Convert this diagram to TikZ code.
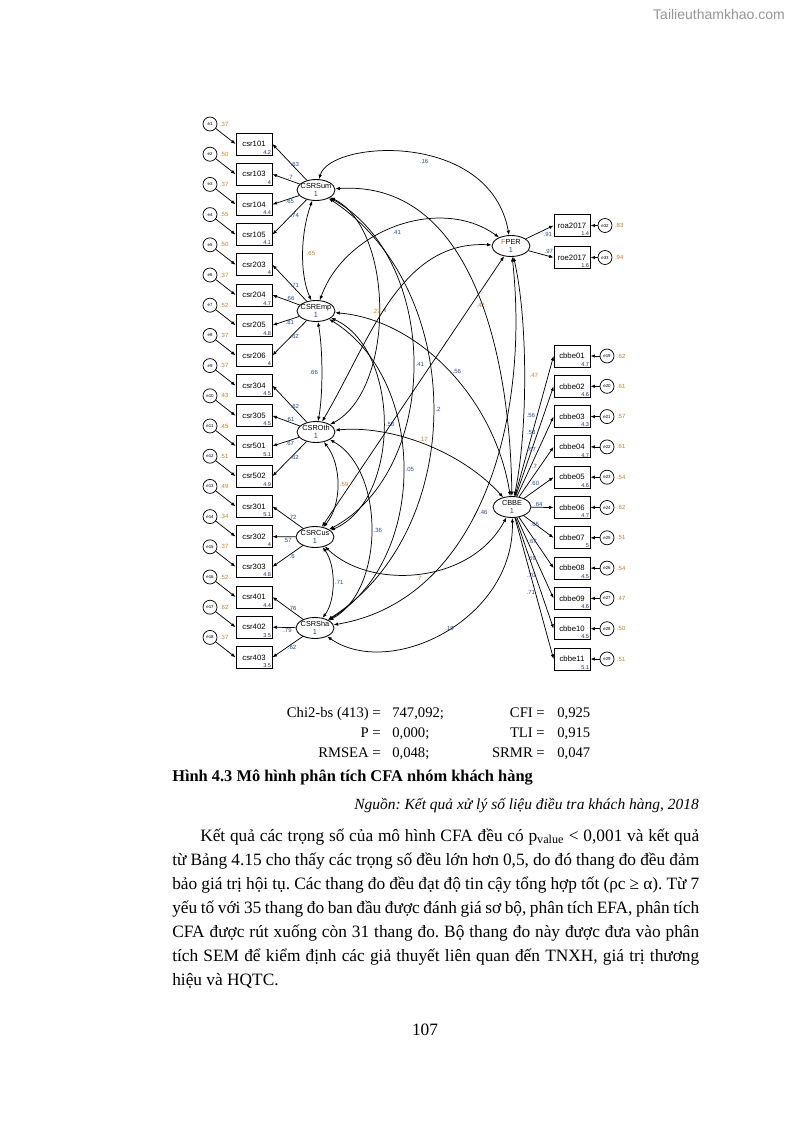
\documentclass[tikz,border=0pt]{standalone}
\usepackage{fontspec}
\setmainfont{Liberation Serif}
\setsansfont{Liberation Sans}
\usetikzlibrary{shapes.geometric,arrows.meta}
\definecolor{lblblue}{RGB}{35,75,160}
\definecolor{lblor}{RGB}{205,125,30}
\definecolor{meanc}{RGB}{40,40,90}
\definecolor{wm}{RGB}{150,150,150}
\frenchspacing
\begin{document}
\begin{tikzpicture}[x=0.75pt,y=-0.75pt,
  every node/.style={inner sep=0pt},
  ind/.style={draw,line width=0.65pt,minimum width=27pt,minimum height=16.5pt,font=\sffamily\fontsize{5.8}{6}\selectfont},
  lat/.style={draw,ellipse,line width=0.65pt,minimum width=28.5pt,minimum height=15.75pt},
  latname/.style={font=\sffamily\fontsize{5.5}{6.2}\selectfont,align=center},
  err/.style={draw,circle,line width=0.55pt,minimum size=10.5pt,font=\sffamily\fontsize{3.3}{3.3}\selectfont},
  mean/.style={font=\sffamily\fontsize{4.2}{4.2}\selectfont,text=meanc,inner sep=0.8pt},
  arr/.style={-{Latex[length=3.4pt,width=2.6pt]},line width=0.55pt},
  cov/.style={{Latex[length=3.4pt,width=2.6pt]}-{Latex[length=3.4pt,width=2.6pt]},line width=0.55pt},
  lbl/.style={font=\sffamily\fontsize{4.5}{4.5}\selectfont,text=lblblue,inner sep=0.6pt},
  lblo/.style={lbl,text=lblor},
  stat/.style={font=\fontsize{11}{13}\selectfont},
  body/.style={font=\fontsize{13}{15}\selectfont,anchor=base west},
]
\useasboundingbox[fill=white] (0,0) rectangle (794,1123);

% watermark
\node[anchor=base east,font=\sffamily\fontsize{10.5}{12}\selectfont,text=wm] (wmk) at (785,20) {Tailieuthamkhao.com};

% latent variables
\node[lat] (S) at (316,190) {};
\node[latname] (Sn) at (316,190) {CSRSum\\\textcolor{lblblue}{1}};
\node[lat] (E) at (316,311) {};
\node[latname] (En) at (316,311) {CSREmp\\\textcolor{lblblue}{1}};
\node[lat] (O) at (316,432) {};
\node[latname] (On) at (316,432) {CSROth\\\textcolor{lblblue}{1}};
\node[lat] (C) at (315,537) {};
\node[latname] (Cn) at (315,537) {CSRCus\\\textcolor{lblblue}{1}};
\node[lat] (H) at (315,628) {};
\node[latname] (Hn) at (315,628) {CSRSha\\\textcolor{lblblue}{1}};
\node[lat] (F) at (511,246) {};
\node[latname] (Fn) at (511,246) {\textcolor{lblor}{F}PER\\\textcolor{lblblue}{1}};
\node[lat] (B) at (512,507) {};
\node[latname] (Bn) at (512,507) {CBBE\\\textcolor{lblblue}{1}};

% left indicators
\foreach \n/\m/\r [count=\i from 0] in {
 csr101/4.2/.37, csr103/4/.50, csr104/4.4/.37, csr105/4.1/.55,
 csr203/4/.50, csr204/4.7/.37, csr205/4.8/.52, csr206/4/.37,
 csr304/4.5/.37, csr305/4.5/.43, csr501/5.1/.45, csr502/4.9/.51,
 csr301/5.1/.49, csr302/4/.34, csr303/4.8/.37,
 csr401/4.4/.52, csr402/3.5/.62, csr403/3.5/.37}{
  \pgfmathsetmacro\yy{144+\i*30.2}
  \pgfmathtruncatemacro\k{\i+1}
  \node[ind] (L\i) at (254,\yy) {\n};
  \node[mean,anchor=south east] (mL\i) at (L\i.south east) {\m};
  \node[err] (eL\i) at (210,\yy-20) {e\k};
  \draw[arr] (eL\i) -- (L\i.west);
  \node[lblo,anchor=west] (rL\i) at ([xshift=1.2pt]eL\i.east) {\r};
}
\foreach \lv/\i/\l/\an in {S/0/.63/south, S/1/.7/south, S/2/.65/north, S/3/.74/north,
  E/4/.71/south, E/5/.66/south, E/6/.81/north, E/7/.62/north,
  O/8/.62/south, O/9/.61/south, O/10/.67/north, O/11/.62/north,
  C/12/.72/south, C/13/.57/north, C/14/.6/north,
  H/15/.76/south, H/16/.79/north, H/17/.62/north}{
  \draw[arr] (\lv) -- node[lbl,pos=.35,anchor=\an]{\l} (L\i.east);
}

% FPER indicators
\node[ind] (R1) at (572,225.5) {roa2017};
\node[mean,anchor=south east] (mR1) at (R1.south east) {1.4};
\node[ind] (R2) at (572,257.5) {roe2017};
\node[mean,anchor=south east] (mR2) at (R2.south east) {1.6};
\node[err] (eR1) at (605,225.5) {e32};
\node[err] (eR2) at (605,257.5) {e33};
\draw[arr] (eR1) -- (R1.east);
\draw[arr] (eR2) -- (R2.east);
\node[lblo,anchor=west] (rR1) at ([xshift=1.2pt]eR1.east) {.83};
\node[lblo,anchor=west] (rR2) at ([xshift=1.2pt]eR2.east) {.94};
\draw[arr] (F) -- node[lbl,pos=.6,anchor=north west]{.91} (R1.west);
\draw[arr] (F) -- node[lbl,pos=.6,anchor=south west]{.97} (R2.west);

% CBBE indicators
\foreach \n/\m/\l/\r [count=\i from 0] in {
 cbbe01/4.7/.56/.62, cbbe02/4.6/.58/.61, cbbe03/4.3/.67/.57, cbbe04/4.7/.7/.61,
 cbbe05/4.6/.60/.54, cbbe06/4.7/.64/.62, cbbe07/5/.65/.51, cbbe08/4.5/.67/.54,
 cbbe09/4.6/.69/.47, cbbe10/4.5/.70/.50, cbbe11/5.1/.71/.51}{
  \pgfmathsetmacro\yy{356+\i*30.3}
  \pgfmathtruncatemacro\k{\i+19}
  \node[ind] (Q\i) at (572,\yy) {\n};
  \node[mean,anchor=south east] (mQ\i) at (Q\i.south east) {\m};
  \node[err] (eQ\i) at (607,\yy) {e\k};
  \draw[arr] (eQ\i) -- (Q\i.east);
  \node[lblo,anchor=west] (rQ\i) at ([xshift=1.2pt]eQ\i.east) {\r};
  \draw[arr] (B) -- node[lbl,pos=.55,anchor=south east]{\l} (Q\i.west);
}

% covariances
\draw[cov] (S) .. controls (300,235) and (300,275) .. (E) node[lblo,pos=.5,anchor=west,xshift=2pt]{.65};
\draw[cov] (E) .. controls (323,350) and (323,395) .. (O) node[lbl,pos=.5,anchor=east,xshift=-2pt]{.66};
\draw[cov] (O) .. controls (342,465) and (342,505) .. (C) node[lblo,pos=.5,anchor=west,xshift=1pt]{.59};
\draw[cov] (C) .. controls (336,565) and (336,600) .. (H) node[lbl,pos=.5,anchor=west,xshift=1pt]{.71};
\draw[cov] (S) .. controls (395,230) and (395,390) .. (O) node[lbl,pos=.5,anchor=west,xshift=1pt]{.4};
\draw[cov] (S) .. controls (441,260) and (441,470) .. (C) node[lbl,pos=.5,anchor=west,xshift=1pt]{.41};
\draw[cov] (S) .. controls (468,290) and (468,530) .. (H) node[lbl,pos=.5,anchor=west,xshift=1pt]{.2};
\draw[cov] (E) .. controls (401,350) and (401,500) .. (C) node[lbl,pos=.5,anchor=west,xshift=1pt]{.58};
\draw[cov] (E) .. controls (428,380) and (428,560) .. (H) node[lbl,pos=.5,anchor=west,xshift=1pt]{.05};
\draw[cov] (O) .. controls (385,470) and (385,590) .. (H) node[lbl,pos=.5,anchor=west,xshift=1pt]{.36};
\draw[cov] (S) .. controls (330,140) and (490,130) .. (F) node[lbl,pos=.55,anchor=north,yshift=-2pt]{.16};
\draw[cov] (E) .. controls (345,230) and (440,195) .. (F) node[lbl,pos=.5,anchor=north,yshift=-2pt]{.41};
\draw[cov] (O) .. controls (370,340) and (400,240) .. (F) node[lblo,pos=.45,anchor=east,xshift=-1pt]{.27};
\draw[cov] (C) -- (F) node[lblo,pos=.82,anchor=west,xshift=3pt]{.42};
\draw[cov] (H) .. controls (480,600) and (530,420) .. (F) node[lbl,pos=.45,anchor=west,xshift=2pt]{.46};
\draw[cov] (F) .. controls (528,320) and (528,430) .. (B) node[lblo,pos=.5,anchor=west,xshift=3pt]{.47};
\draw[cov] (S) .. controls (470,180) and (510,350) .. (B);
\draw[cov] (E) .. controls (420,320) and (495,400) .. (B) node[lbl,pos=.5,anchor=west,xshift=2pt]{.56};
\draw[cov] (O) .. controls (390,425) and (460,450) .. (B) node[lblo,pos=.5,anchor=south,yshift=1pt]{.17};
\draw[cov] (C) .. controls (370,590) and (470,585) .. (B) node[lblo,pos=.5,anchor=north,yshift=-1pt]{.7};
\draw[cov] (H) .. controls (390,680) and (515,620) .. (B) node[lbl,pos=.5,anchor=south west]{.19};

% fit statistics
\node[stat,anchor=base east] (t1) at (381,717) {Chi2-bs (413) =};
\node[stat,anchor=base west] (v1) at (392,717) {747,092;};
\node[stat,anchor=base east] (t2) at (381,737) {P =};
\node[stat,anchor=base west] (v2) at (392,737) {0,000;};
\node[stat,anchor=base east] (t3) at (381,757) {RMSEA =};
\node[stat,anchor=base west] (v3) at (392,757) {0,048;};
\node[stat,anchor=base east] (t4) at (545,717) {CFI =};
\node[stat,anchor=base west] (v4) at (557,717) {0,925};
\node[stat,anchor=base east] (t5) at (545,737) {TLI =};
\node[stat,anchor=base west] (v5) at (557,737) {0,915};
\node[stat,anchor=base east] (t6) at (545,757) {SRMR =};
\node[stat,anchor=base west] (v6) at (557,757) {0,047};

% caption and source
\node[body,font=\bfseries\fontsize{12.3}{15}\selectfont] (cap) at (172,781) {Hình 4.3 Mô hình phân tích CFA nhóm khách hàng};
\node[body,anchor=base east,font=\itshape\fontsize{11.6}{15}\selectfont] (src) at (699,809) {Nguồn: Kết quả xử lý số liệu điều tra khách hàng, 2018};

% paragraph
\node[body] (p1) at (200,841) {\makebox[374.25pt][s]{Kết quả các trọng số của mô hình CFA đều có p\textsubscript{value} < 0,001 và kết quả}};
\node[body] (p2) at (172,865) {\makebox[395.25pt][s]{từ Bảng 4.15 cho thấy các trọng số đều lớn hơn 0,5, do đó thang đo đều đảm}};
\node[body] (p3) at (172,889) {\makebox[395.25pt][s]{bảo giá trị hội tụ. Các thang đo đều đạt độ tin cậy tổng hợp tốt (ρc ≥ α). Từ 7}};
\node[body] (p4) at (172,913) {\makebox[395.25pt][s]{yếu tố với 35 thang đo ban đầu được đánh giá sơ bộ, phân tích EFA, phân tích}};
\node[body] (p5) at (172,937) {\makebox[395.25pt][s]{CFA được rút xuống còn 31 thang đo. Bộ thang đo này được đưa vào phân}};
\node[body] (p6) at (172,961) {\makebox[395.25pt][s]{tích SEM để kiểm định các giả thuyết liên quan đến TNXH, giá trị thương}};
\node[body] (p7) at (172,985) {hiệu và HQTC.};

\node[body,anchor=base] (pg) at (425,1035) {107};
\end{tikzpicture}
\end{document}
